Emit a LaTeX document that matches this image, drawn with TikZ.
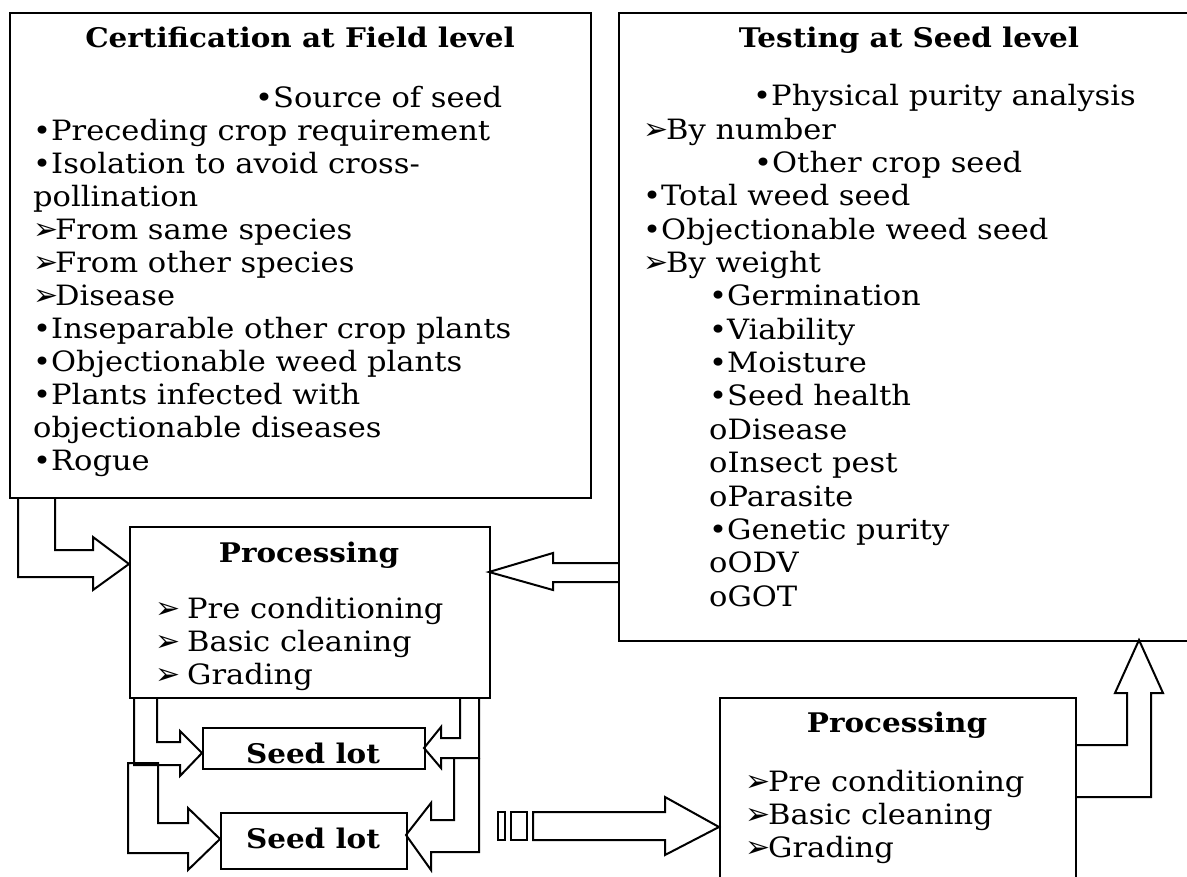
\documentclass[tikz,border=0pt]{standalone}
\usepackage{fontspec}
\setmainfont{DejaVu Serif}[FakeStretch=1.09]
\newfontfamily\dingfont{DejaVu Sans}
% arrowhead bullet and a fixed-width slot for it
\newcommand{\pointer}{{\dingfont\fontsize{30}{30}\selectfont ➢}}
\newcommand{\ptr}[1][22]{\makebox[#1pt][l]{\pointer}}

\begin{document}
\begin{tikzpicture}[x=1pt,y=-1pt,
  box/.style={draw, line width=2pt, inner sep=0pt, anchor=north west},
  txt/.style={inner sep=0pt, anchor=base west, font=\fontsize{28}{33}\selectfont},
  head/.style={inner sep=0pt, anchor=base, font=\fontsize{27}{30}\selectfont\bfseries},
  blk/.style={draw, line width=2pt, line join=miter}]

\fill[white] (0,0) rectangle (1187,877);
\useasboundingbox (0,0) rectangle (1187,877);

% ---------- boxes ----------
\node[box, minimum width=581pt, minimum height=485pt] (cert) at (9,12) {};
\node[box, minimum width=620pt, minimum height=628pt] (test) at (618,12) {};
\node[box, minimum width=360pt, minimum height=171pt] (proc1) at (129,526) {};
\node[box, minimum width=222pt, minimum height=41pt] (lot1) at (202,727) {};
\node[box, minimum width=186pt, minimum height=56pt] (lot2) at (220,812) {};
\node[box, minimum width=356pt, minimum height=220pt] (proc2) at (719,697) {};

% ---------- field certification ----------
\node[head] (certT) at (300,48) {Certification at Field level};
\node[txt] (c0) at (255,108) {•Source of seed};
\node[txt] (c1) at (33,141) {•Preceding crop requirement};
\node[txt] (c2) at (33,174) {•Isolation to avoid cross-};
\node[txt] (c3) at (33,207) {pollination};
\node[txt] (c4) at (33,240) {\ptr From same species};
\node[txt] (c5) at (33,273) {\ptr From other species};
\node[txt] (c6) at (33,306) {\ptr Disease};
\node[txt] (c7) at (33,339) {•Inseparable other crop plants};
\node[txt] (c8) at (33,372) {•Objectionable weed plants};
\node[txt] (c9) at (33,405) {•Plants infected with};
\node[txt] (c10) at (33,438) {objectionable diseases};
\node[txt] (c11) at (33,471) {•Rogue};

% ---------- seed testing ----------
\node[head] (testT) at (909,48) {Testing at Seed level};
\node[txt] (t0) at (753,106) {•Physical purity analysis};
\node[txt] (t1) at (643,139.3) {\ptr[23]By number};
\node[txt] (t2) at (754,172.7) {•Other crop seed};
\node[txt] (t3) at (643,206) {•Total weed seed};
\node[txt] (t4) at (643,239.3) {•Objectionable weed seed};
\node[txt] (t5) at (643,272.7) {\ptr[23]By weight};
\node[txt] (t6) at (709,306) {•Germination};
\node[txt] (t7) at (709,339.3) {•Viability};
\node[txt] (t8) at (709,372.7) {•Moisture};
\node[txt] (t9) at (709,406) {•Seed health};
\node[txt] (t10) at (709,439.3) {oDisease};
\node[txt] (t11) at (709,472.7) {oInsect pest};
\node[txt] (t12) at (709,506) {oParasite};
\node[txt] (t13) at (709,539.3) {•Genetic purity};
\node[txt] (t14) at (709,572.7) {oODV};
\node[txt] (t15) at (709,606) {oGOT};

% ---------- processing (left) ----------
\node[head] (p1T) at (309,562) {Processing};
\node[txt] (p1a) at (155,618) {\ptr[32]Pre conditioning};
\node[txt] (p1b) at (155,651) {\ptr[32]Basic cleaning};
\node[txt] (p1c) at (155,684) {\ptr[32]Grading};

% ---------- seed lots ----------
\node[head] (l1T) at (313,763) {Seed lot};
\node[head] (l2T) at (313,848) {Seed lot};

% ---------- processing (right) ----------
\node[head] (p2T) at (897,732) {Processing};
\node[txt] (p2a) at (745,791) {\ptr[23]Pre conditioning};
\node[txt] (p2b) at (745,824) {\ptr[23]Basic cleaning};
\node[txt] (p2c) at (745,857) {\ptr[23]Grading};

% ---------- block arrows ----------
% field certification -> processing
\draw[blk] (18,497) -- (18,577) -- (93,577) -- (93,590) -- (129,564)
  -- (93,537) -- (93,550) -- (55,550) -- (55,497);
% seed testing -> processing
\draw[blk] (618,563) -- (553,563) -- (553,553) -- (489,572) -- (553,590)
  -- (553,582) -- (618,582);
% processing -> first seed lot (left side)
\draw[blk] (157,697) -- (157,742) -- (180,742) -- (180,731) -- (202,753)
  -- (180,776) -- (180,765) -- (134,765) -- (134,697);
% processing -> second seed lot (left side)
\draw[blk] (128,763) -- (128,853) -- (188,853) -- (188,870) -- (220,839)
  -- (188,808) -- (188,823) -- (158,823) -- (158,763) -- cycle;
% processing -> first seed lot (right side)
\draw[blk] (460,697) -- (460,738) -- (441,738) -- (441,727) -- (424,748)
  -- (441,768) -- (441,758) -- (479,758) -- (479,697);
% processing -> second seed lot (right side)
\draw[blk] (479,758) -- (479,852) -- (431,852) -- (431,870) -- (406,835)
  -- (431,803) -- (431,820) -- (454,820) -- (454,758);
% seed lot -> second processing
\draw[blk] (498,812) rectangle (505,840);
\draw[blk] (511,812) rectangle (527,840);
\draw[blk] (533,812) -- (665,812) -- (665,797) -- (719,827) -- (665,855)
  -- (665,840) -- (533,840) -- cycle;
% second processing -> seed testing
\draw[blk] (1075,745) -- (1127,745) -- (1127,693) -- (1115,693) -- (1139,640)
  -- (1163,693) -- (1151,693) -- (1151,797) -- (1075,797);
\end{tikzpicture}
\end{document}
